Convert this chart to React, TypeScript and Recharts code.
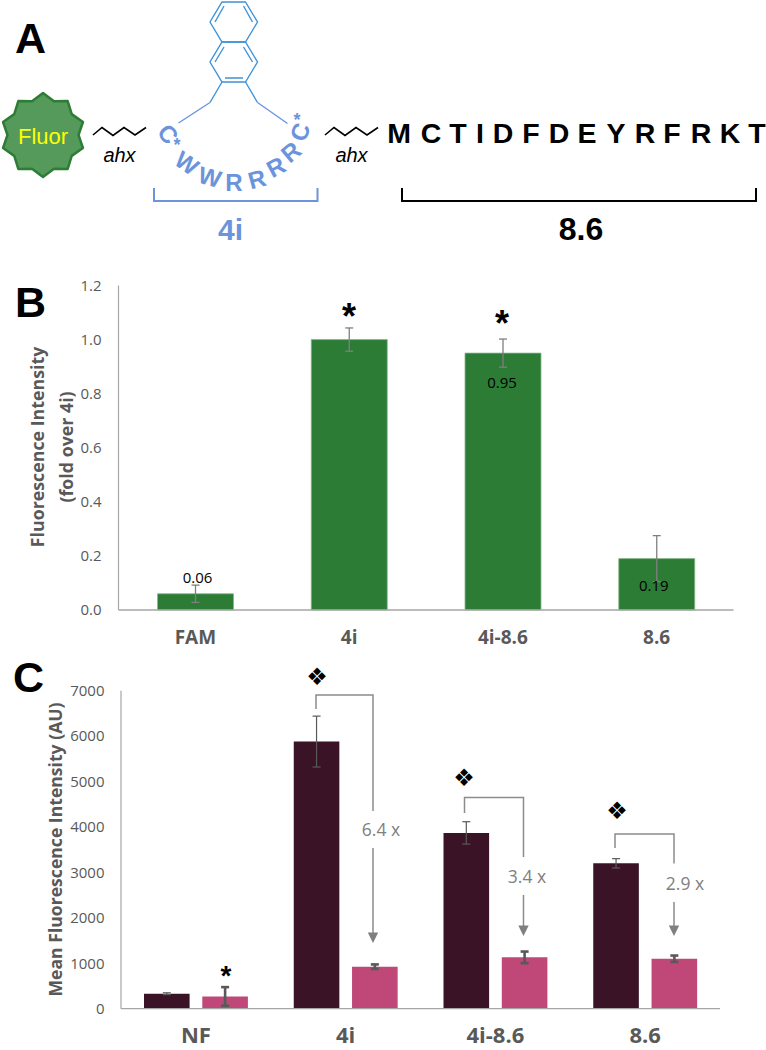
import { BarChart, Bar, XAxis, YAxis, ErrorBar, LabelList } from 'recharts';

const SANS = '"Open Sans", sans-serif';
const ARIAL = '"Liberation Sans", Arial, sans-serif';
const TICK_GREY = '#595959';
const BLUE = '#6b94dc';
const RING_BLUE = '#3f93d9';

// panel B
const foldCategories = ['FAM', '4i', '4i-8.6', '8.6'];
const foldValues = [0.06, 1.0, 0.95, 0.19];
const foldErrors = [0.032, 0.043, 0.052, 0.085];
const foldLabels = ['0.06', null, '0.95', '0.19'];
const foldTicks = [0, 0.2, 0.4, 0.6, 0.8, 1.0, 1.2];

// panel C
const mfiCategories = ['NF', '4i', '4i-8.6', '8.6'];
const darkValues = [330, 5880, 3870, 3200];
const darkErrors = [20, 560, 246, 103];
const pinkValues = [270, 925, 1130, 1100];
const pinkErrors = [205, 50, 128, 70];
const mfiTicks = [0, 1000, 2000, 3000, 4000, 5000, 6000, 7000];

const foldData = foldCategories.map((name, i) => ({
  name,
  value: foldValues[i],
  err: foldErrors[i],
  label: foldLabels[i],
}));

const mfiData = mfiCategories.map((name, i) => ({
  name,
  dark: darkValues[i],
  darkErr: darkErrors[i],
  pink: pinkValues[i],
  pinkErr: pinkErrors[i],
}));

// where the printed value sits relative to the bar top, one per category
const foldLabelOffsets = [
  { dx: 2, dy: -17 },
  { dx: 0, dy: 0 },
  { dx: -1, dy: 29 },
  { dx: -3, dy: 26 },
];

function FoldLabel(props: any) {
  const { x, y, width, value, index } = props;
  if (value == null) return null;
  const off = foldLabelOffsets[index];
  return (
    <text
      x={x + width / 2 + off.dx}
      y={y + off.dy}
      textAnchor="middle"
      dominantBaseline="central"
      fontFamily={SANS}
      fontSize={15}
      fill="#000"
    >
      {value}
    </text>
  );
}

function fluorStar(cx: number, cy: number, outer: number, inner: number, n: number): string {
  const pts: string[] = [];
  for (let i = 0; i < n * 2; i++) {
    const r = i % 2 === 0 ? outer : inner;
    const a = (Math.PI * i) / n;
    pts.push(`${cx + r * Math.sin(a)},${cy - r * Math.cos(a)}`);
  }
  return pts.join(' ');
}

const loopLetters = [
  { ch: 'C', x: 168, y: 134, rot: 50 },
  { ch: 'W', x: 187, y: 163, rot: 35 },
  { ch: 'W', x: 210, y: 177, rot: 15 },
  { ch: 'R', x: 234, y: 182, rot: 0 },
  { ch: 'R', x: 257, y: 179, rot: -15 },
  { ch: 'R', x: 276, y: 167, rot: -28 },
  { ch: 'R', x: 291, y: 152, rot: -40 },
  { ch: 'C', x: 300, y: 132, rot: -70 },
];

const seqLetters = 'MCTIDFDEYRFRKT'.split('');
const seqX = [399, 431, 458, 480, 503, 531, 559, 587, 616, 645, 672, 701, 730, 757];

function Ahx({ dx }: { dx: number }) {
  return (
    <g transform={`translate(${dx},0)`}>
      <polyline
        points="93,135 102,127.5 113,135.5 124,127.5 135,135 146,127.5"
        fill="none"
        stroke="#000"
        strokeWidth={1.6}
      />
      <text x={119.5} y={161.5} textAnchor="middle" fontFamily={ARIAL} fontStyle="italic" fontSize={20} fill="#000">
        ahx
      </text>
    </g>
  );
}

function PanelA() {
  return (
    <g>
      <polygon points={fluorStar(43, 135, 42, 35.5, 10)} fill="#559a5b" stroke="#2d7d36" strokeWidth={2.5} strokeLinejoin="round" />
      <text x={43} y={144} textAnchor="middle" fontFamily={ARIAL} fontSize={22} fill="#ffff00">
        Fluor
      </text>
      <Ahx dx={0} />
      <Ahx dx={232} />

      <g fill="none" stroke={RING_BLUE} strokeWidth={1.4}>
        <polygon points="222,2 245.5,2 257.5,22 245.5,42 222,42 210,22" />
        <polygon points="222,42 245.5,42 257.5,62 245.5,82 222,82 210,62" />
        <path d="M215,22 L224,6 M243.5,6 L252.5,22 M215,62 L224,47 M243.5,47 L252.5,62 M225,78 L243,78" />
        <path d="M222,82 L210,102.5 M245.5,82 L257.5,102.5" />
      </g>
      <path d="M210,102.5 L178.5,123 M257.5,102.5 L287.5,123.5" fill="none" stroke={BLUE} strokeWidth={1.4} />

      {loopLetters.map((l, i) => (
        <text
          key={i}
          x={l.x}
          y={l.y}
          transform={`rotate(${l.rot} ${l.x} ${l.y})`}
          textAnchor="middle"
          dominantBaseline="central"
          fontFamily={ARIAL}
          fontWeight={700}
          fontSize={24}
          fill={BLUE}
        >
          {l.ch}
        </text>
      ))}
      <text x={177} y={151} textAnchor="middle" fontFamily={ARIAL} fontWeight={700} fontSize={18} fill={BLUE}>*</text>
      <text x={297} y={126} textAnchor="middle" fontFamily={ARIAL} fontWeight={700} fontSize={18} fill={BLUE}>*</text>

      <path d="M154,188 V201 H317.5 V188" fill="none" stroke={BLUE} strokeWidth={2} />
      <text x={230.5} y={240} textAnchor="middle" fontFamily={ARIAL} fontWeight={700} fontSize={30} fill={BLUE}>
        4i
      </text>

      {seqLetters.map((ch, i) => (
        <text key={i} x={seqX[i]} y={142.5} textAnchor="middle" fontFamily={ARIAL} fontWeight={700} fontSize={28.5} fill="#000">
          {ch}
        </text>
      ))}
      <path d="M402,188 V201 H756 V188" fill="none" stroke="#000" strokeWidth={2} />
      <text x={581} y={239.5} textAnchor="middle" fontFamily={ARIAL} fontWeight={700} fontSize={32} fill="#000">
        8.6
      </text>
    </g>
  );
}

// fold-change bracket from the dark bar over to the pink bar, with the arrow split by its text
function FoldBracket(p: {
  x0: number; y0: number; yTop: number; x1: number; yGap0: number; yGap1: number; yTip: number;
  label: string; labelX: number; labelY: number;
}) {
  return (
    <g>
      <path
        d={`M${p.x0},${p.y0} V${p.yTop} H${p.x1} V${p.yGap0} M${p.x1},${p.yGap1} V${p.yTip - 8}`}
        fill="none"
        stroke="#8c8c8c"
        strokeWidth={1.5}
      />
      <polygon points={`${p.x1 - 5.2},${p.yTip - 10.5} ${p.x1 + 5.2},${p.yTip - 10.5} ${p.x1},${p.yTip}`} fill="#7f7f7f" />
      <text x={p.labelX} y={p.labelY} textAnchor="middle" fontFamily={SANS} fontSize={17.5} fill="#7f7f7f">
        {p.label}
      </text>
    </g>
  );
}

function Annotations() {
  const star = { textAnchor: 'middle' as const, fontFamily: ARIAL, fontWeight: 700, fill: '#000' };
  const diamond = { textAnchor: 'middle' as const, fontFamily: '"DejaVu Sans"', fontSize: 24, fill: '#000' };
  return (
    <g>
      <text x={349} y={329} fontSize={36} {...star}>*</text>
      <text x={502} y={336} fontSize={36} {...star}>*</text>
      <text x={226} y={985} fontSize={28} {...star}>*</text>

      <text x={317} y={685} {...diamond}>❖</text>
      <text x={464} y={786} {...diamond}>❖</text>
      <text x={617} y={819} {...diamond}>❖</text>

      <FoldBracket x0={316} y0={709} yTop={695} x1={373} yGap0={811} yGap1={848} yTip={943} label="6.4 x" labelX={381} labelY={836} />
      <FoldBracket x0={464.5} y0={813} yTop={797.5} x1={523.5} yGap0={857} yGap1={895} yTip={936} label="3.4 x" labelX={527} labelY={882.5} />
      <FoldBracket x0={615} y0={848} yTop={834} x1={674} yGap0={863.5} yGap1={902} yTip={936} label="2.9 x" labelX={685} labelY={889.5} />
    </g>
  );
}

function Letters() {
  const s = { fontFamily: ARIAL, fontWeight: 700, fontSize: 43, fill: '#000' };
  return (
    <g>
      <text x={15} y={53} {...s}>A</text>
      <text x={15} y={317} {...s}>B</text>
      <text x={13} y={692} {...s}>C</text>
    </g>
  );
}

function AxisTitles() {
  const s = { textAnchor: 'middle' as const, fontFamily: SANS, fontWeight: 700, fill: TICK_GREY };
  return (
    <g>
      <text transform="translate(44,447) rotate(-90)" fontSize={17.8} {...s}>Fluorescence Intensity</text>
      <text transform="translate(72.5,447) rotate(-90)" fontSize={17.8} {...s}>(fold over 4i)</text>
      <text transform="translate(61.5,849.5) rotate(-90)" fontSize={17.6} {...s}>Mean Fluorescence Intensity (AU)</text>
    </g>
  );
}

export default function App() {
  return (
    <div style={{ position: 'absolute', left: 0, top: 0, width: 766, height: 1050, background: '#fff', overflow: 'hidden' }}>
      <div style={{ position: 'absolute', left: 0, top: 270 }}>
        <BarChart
          width={766}
          height={380}
          data={foldData}
          margin={{ top: 15.5, right: 32.5, bottom: 0, left: 0 }}
        >
          <XAxis
            dataKey="name"
            height={40}
            axisLine={{ stroke: '#a6a6a6', strokeWidth: 1.5 }}
            tickLine={false}
            tickMargin={15}
            tick={{ fontFamily: SANS, fontWeight: 700, fontSize: 19, fill: TICK_GREY }}
          />
          <YAxis
            width={118.5}
            domain={[0, 1.2]}
            ticks={foldTicks}
            tickFormatter={(v: number) => v.toFixed(1)}
            axisLine={{ stroke: '#a6a6a6', strokeWidth: 1.2 }}
            tickLine={false}
            tickMargin={11}
            tick={{ fontFamily: SANS, fontSize: 15, fill: TICK_GREY }}
          />
          <Bar dataKey="value" barSize={76} fill="#2c7c36" stroke="#86b98b" strokeWidth={0.8} isAnimationActive={false}>
            <ErrorBar dataKey="err" width={4} stroke="#7f7f7f" strokeWidth={1.3} isAnimationActive={false} />
            <LabelList dataKey="label" content={<FoldLabel />} />
          </Bar>
        </BarChart>
      </div>

      <div style={{ position: 'absolute', left: 0, top: 670 }}>
        <BarChart
          width={766}
          height={380}
          data={mfiData}
          barGap={12.7}
          margin={{ top: 20.7, right: 46, bottom: 0, left: 0 }}
        >
          <XAxis
            dataKey="name"
            height={41.3}
            axisLine={{ stroke: '#a6a6a6', strokeWidth: 1.3 }}
            tickLine={false}
            tickMargin={13}
            tick={{ fontFamily: SANS, fontWeight: 700, fontSize: 22, fill: TICK_GREY }}
          />
          <YAxis
            width={121}
            domain={[0, 7000]}
            ticks={mfiTicks}
            axisLine={{ stroke: '#a6a6a6', strokeWidth: 1.2 }}
            tickLine={false}
            tickMargin={10.5}
            tick={{ fontFamily: SANS, fontSize: 15, fill: TICK_GREY }}
          />
          <Bar dataKey="dark" barSize={45.6} fill="#3a1426" isAnimationActive={false}>
            <ErrorBar dataKey="darkErr" width={4} stroke="#595959" strokeWidth={1.2} isAnimationActive={false} />
          </Bar>
          <Bar dataKey="pink" barSize={45.6} fill="#bf4879" isAnimationActive={false}>
            <ErrorBar dataKey="pinkErr" width={4} stroke="#595959" strokeWidth={2.6} isAnimationActive={false} />
          </Bar>
        </BarChart>
      </div>

      <svg width={766} height={1050} style={{ position: 'absolute', left: 0, top: 0, pointerEvents: 'none' }}>
        <Letters />
        <PanelA />
        <AxisTitles />
        <Annotations />
      </svg>
    </div>
  );
}
